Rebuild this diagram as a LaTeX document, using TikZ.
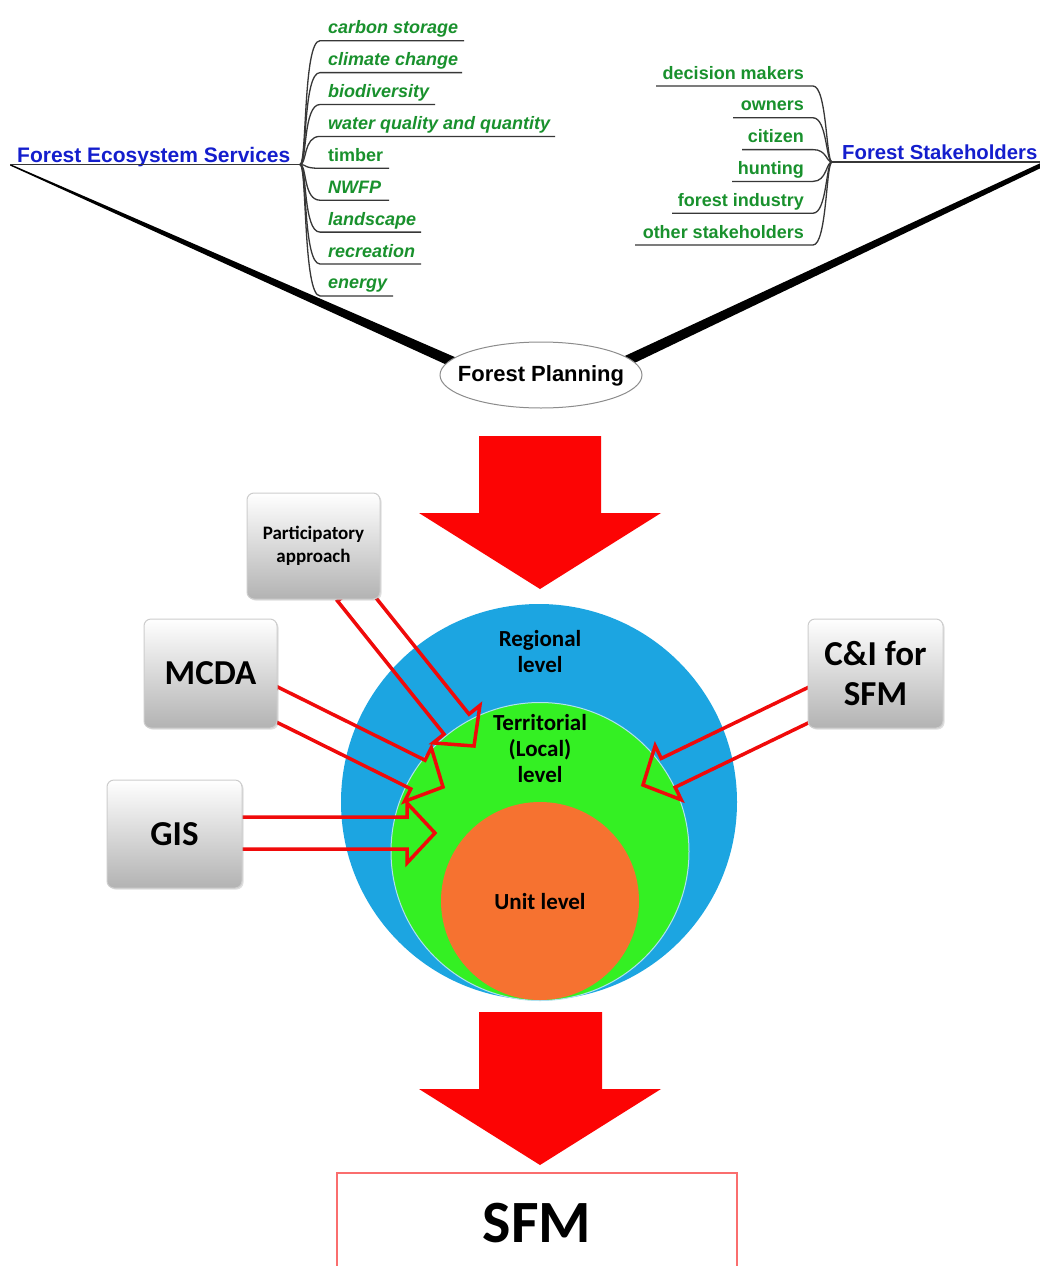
\documentclass[tikz,border=0pt]{standalone}
\usepackage{fontspec}
\setmainfont{Liberation Sans}
\newfontfamily\calfont{Carlito}
\usetikzlibrary{calc,shadows,shapes.geometric}
\definecolor{linkblue}{RGB}{20,30,205}
\definecolor{itemgreen}{RGB}{25,145,45}
\definecolor{cblue}{RGB}{28,165,225}
\definecolor{cgreen}{RGB}{52,240,35}
\definecolor{corange}{RGB}{246,114,48}
\definecolor{bigred}{RGB}{252,4,4}
\definecolor{harred}{RGB}{240,10,10}
\definecolor{boxborder}{RGB}{205,205,205}
\definecolor{sfmred}{RGB}{250,110,110}
\definecolor{branchgray}{RGB}{55,55,55}
\newcommand\hollowarrow[2]{%
  \draw[harrow] let \p1=($(#2)!28pt!(#1)$) in
    ($(#1)!16pt!90:(#2)$) -- ($(\p1)!16pt!-90:(#1)$) -- ($(\p1)!30pt!-90:(#1)$) --
    (#2) -- ($(\p1)!30pt!90:(#1)$) -- ($(\p1)!16pt!90:(#1)$) -- ($(#1)!16pt!-90:(#2)$) -- cycle;}
\begin{document}
\begin{tikzpicture}[x=1pt,y=-1pt,
  title/.style={anchor=base west,inner sep=0pt,text=linkblue,font=\fontsize{21}{21}\selectfont\bfseries},
  svc/.style={anchor=base west,inner sep=0pt,text=itemgreen,font=\fontsize{18}{18}\selectfont\bfseries\itshape},
  stk/.style={anchor=base east,inner sep=0pt,text=itemgreen,font=\fontsize{18}{18}\selectfont\bfseries},
  branch/.style={draw=branchgray,line width=1.3pt},
  harrow/.style={draw=harred,line width=3.5pt,line join=miter},
  gbox/.style={draw=boxborder,line width=1pt,rounded corners=7pt,top color=white,bottom color=black!30,
    align=center,inner sep=0pt,text=black,
    drop shadow={opacity=0.25,shadow xshift=1.5pt,shadow yshift=-1.5pt}},
  lvl/.style={align=center,inner sep=0pt,font=\calfont\fontsize{23}{26}\selectfont\bfseries},
  disc/.style={circle,inner sep=0pt}
]
\useasboundingbox (0,0) rectangle (1040,1266);
\clip (0,0) rectangle (1040,1266);
\fill[white] (0,0) rectangle (1040,1266);

% ---- tapered wedges to Forest Planning
\fill[black] (10,164) -- (480,368) -- (480,380) -- (10,165.5) -- cycle;
\fill[black] (1045,161) -- (600,367.5) -- (600,379.5) -- (1045,166) -- cycle;

% ---- left tree
\coordinate (fesj) at (300,164.5);
\node[title] (fes) at (17,162) {Forest Ecosystem Services};
\draw[branch] (10,164.5) -- (fesj);
\foreach \i/\txt/\e in {0/carbon storage/464,1/climate change/462,2/biodiversity/435,3/water quality and quantity/555,4/{\upshape timber}/389,5/NWFP/389,6/landscape/421,7/recreation/421,8/energy/393}{
  \pgfmathsetmacro\yy{40.7+31.9*\i}
  \node[svc] (svc\i) at (328,\yy-7) {\txt};
  \draw[branch] (fesj) .. controls (307,164.5) and (303,\yy) .. (320,\yy) -- (\e,\yy);
}

% ---- right tree
\coordinate (fsj) at (832,162);
\node[title,font=\fontsize{20.3}{20.3}\selectfont\bfseries] (fs) at (842,159) {Forest Stakeholders};
\draw[branch] (fsj) -- (1040,162);
\foreach \i/\txt/\xs in {0/decision makers/656,1/owners/733,2/citizen/742,3/hunting/732,4/forest industry/672,5/other stakeholders/635}{
  \pgfmathsetmacro\yy{86+31.8*\i}
  \node[stk] (stk\i) at (804,\yy-7) {\txt};
  \draw[branch] (\xs,\yy) -- (813,\yy) .. controls (827,\yy) and (826,162) .. (fsj);
}

% ---- Forest Planning
\path[draw=black!45,line width=1pt,fill=white] (541,375) ellipse [x radius=101pt, y radius=33pt];
\node[inner sep=0pt,font=\fontsize{22}{22}\selectfont\bfseries] (fp) at (541,376) {Forest Planning};

% ---- big arrows
\fill[bigred] (479,436) -- (601,436) -- (601,513) -- (661,513) -- (540,589) -- (419,513) -- (479,513) -- cycle;
\fill[bigred] (479,1012) -- (602,1012) -- (602,1089) -- (661,1089) -- (540,1165) -- (419,1089) -- (479,1089) -- cycle;

% ---- levels
\node[disc,fill=cblue,minimum size=396pt] (reg) at (539,802) {};
\node[disc,fill=cgreen,draw={rgb,255:red,175;green,225;blue,240},line width=1pt,minimum size=298pt] (ter) at (540,851.5) {};
\node[disc,fill=corange,minimum size=198pt] (unit) at (540,901) {};
\node[lvl] (regl) at (540,652) {Regional\\level};
\node[lvl] (terl) at (540,749) {Territorial\\(Local)\\level};
\node[lvl] (unitl) at (540,902) {Unit level};

% ---- hollow arrows
\coordinate (pat) at (350,591);  \coordinate (pah) at (474,746);
\coordinate (mct) at (270,701);  \coordinate (mch) at (443,787);
\coordinate (gst) at (230,833);  \coordinate (gsh) at (435,833);
\coordinate (cit) at (823,698);  \coordinate (cih) at (643,785);
\hollowarrow{pat}{pah}
\hollowarrow{mct}{mch}
\hollowarrow{gst}{gsh}
\hollowarrow{cit}{cih}

% ---- tool boxes
\node[gbox,minimum width=133pt,minimum height=106pt,font=\calfont\fontsize{19}{23}\selectfont\bfseries] (pa) at (313.5,546) {Participatory\\approach};
\node[gbox,minimum width=133pt,minimum height=109pt,font=\calfont\fontsize{35}{40}\selectfont\bfseries] (mcda) at (210.5,673.5) {MCDA};
\node[gbox,minimum width=135pt,minimum height=108pt,font=\calfont\fontsize{35}{40}\selectfont\bfseries] (gis) at (174.5,834) {GIS};
\node[gbox,minimum width=135pt,minimum height=109pt,font=\calfont\fontsize{35}{40}\selectfont\bfseries] (ci) at (875.5,673.5) {C\&I for\\SFM};

% ---- SFM
\node[draw=sfmred,line width=1.5pt,minimum width=400pt,minimum height=100pt,inner sep=0pt,
  font=\calfont\fontsize{60}{60}\selectfont\bfseries] (sfm) at (537,1223) {SFM};
\end{tikzpicture}
\end{document}
